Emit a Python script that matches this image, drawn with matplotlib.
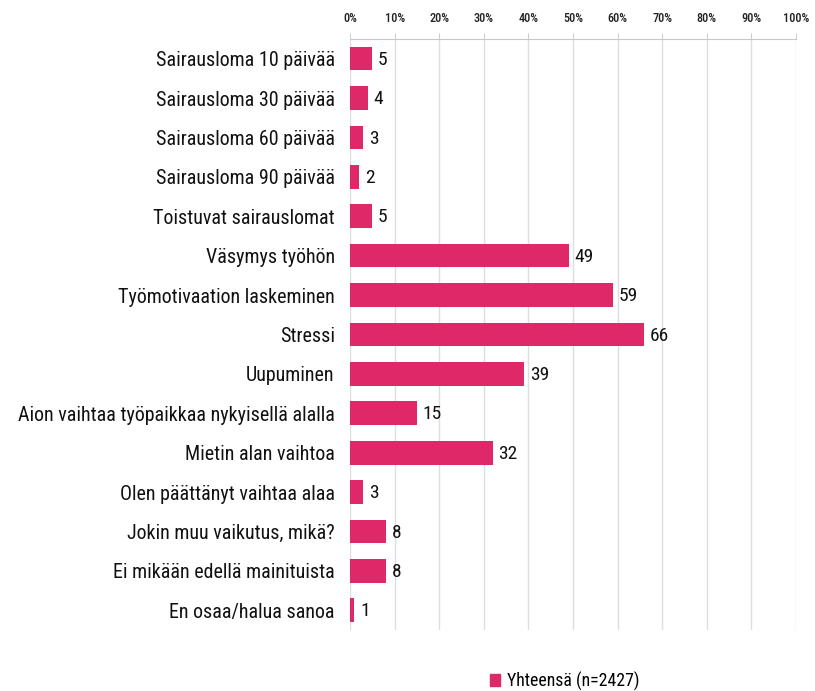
import matplotlib
matplotlib.use("Agg")
import matplotlib.pyplot as plt
from matplotlib import font_manager as fm

categories = [
    "Sairausloma 10 päivää",
    "Sairausloma 30 päivää",
    "Sairausloma 60 päivää",
    "Sairausloma 90 päivää",
    "Toistuvat sairauslomat",
    "Väsymys työhön",
    "Työmotivaation laskeminen",
    "Stressi",
    "Uupuminen",
    "Aion vaihtaa työpaikkaa nykyisellä alalla",
    "Mietin alan vaihtoa",
    "Olen päättänyt vaihtaa alaa",
    "Jokin muu vaikutus, mikä?",
    "Ei mikään edellä mainituista",
    "En osaa/halua sanoa",
]
values = [5, 4, 3, 2, 5, 49, 59, 66, 39, 15, 32, 3, 8, 8, 1]
ticks = list(range(0, 101, 10))
tick_labels = [f"{t}%" for t in ticks]
series_name = "Yhteensä (n=2427)"

names = {f.name for f in fm.fontManager.ttflist}
fam = "Roboto Condensed" if "Roboto Condensed" in names else "Roboto"
plt.rcParams["font.family"] = [fam, "DejaVu Sans"]

color = "#DF2868"
fig = plt.figure(figsize=(8.15, 6.91), dpi=100)
ax = fig.add_axes([0.4294, 0.0883, 0.9767 - 0.4294, 0.9436 - 0.0883])

y = list(range(len(categories)))
ax.barh(y, values, height=0.6, color=color, zorder=3)
for yi, v in zip(y, values):
    ax.text(v + 1.3, yi + 0.03, str(v), va="center", ha="left", fontsize=14, color="#111111", zorder=4)

ax.set_ylim(len(categories) - 0.5, -0.5)
ax.set_xlim(0, 100)
ax.set_yticks(y)
ax.set_yticklabels(categories, fontsize=14.4, color="#111111")
ax.tick_params(axis="y", length=0, pad=11)
ax.xaxis.tick_top()
ax.set_xticks(ticks)
ax.set_xticklabels(tick_labels, fontsize=8.8, color="#222222", fontweight="medium")
ax.tick_params(axis="x", length=4, color="#d0d0d0", pad=6)
ax.grid(axis="x", color="#dedede", linewidth=1, zorder=0)
for s in ["left", "right", "bottom"]:
    ax.spines[s].set_visible(False)
ax.spines["top"].set_color("#c8c8c8")

ax.legend([plt.Rectangle((0, 0), 1, 1, color=color)], [series_name],
          loc="center", bbox_to_anchor=(0.693, 0.0145), bbox_transform=fig.transFigure,
          frameon=False, fontsize=12.8, handlelength=0.6, handleheight=0.6, handletextpad=0.4)

fig.savefig("out.png", dpi=100)
